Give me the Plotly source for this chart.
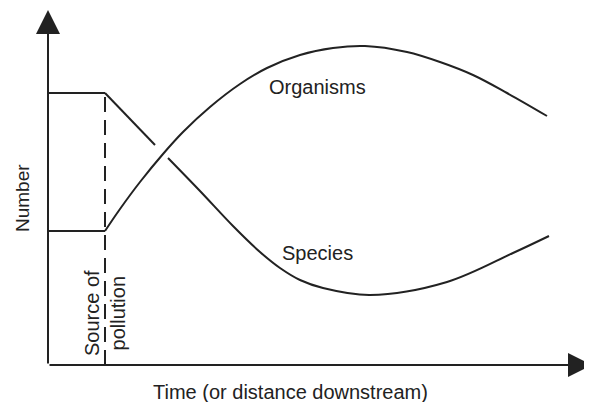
import plotly.graph_objects as go

# Time (arbitrary units) and Number (arbitrary units)
pollution_time = 57
pre_time = [0, 57]
species_pre = [272, 272]
organisms_pre = [134, 134]

species_time = [57, 107, None, 120, 152, 185, 212, 232, 252, 275, 322, 399, 465, 501]
species_num = [272, 220, None, 207, 174, 139, 113, 97, 85, 77, 70, 83, 112, 129]

organisms_time = [57, 72, 92, 115, 135, 162, 192, 219, 252, 285, 317, 359, 392, 425, 459, 499]
organisms_num = [134, 156, 183, 211, 233, 258, 281, 297, 310, 317, 319, 313, 303, 290, 272, 249]

INK = "#222222"
FONT = "Liberation Sans, Arial, Helvetica, sans-serif"

fig = go.Figure()

line = dict(color=INK, width=2)
fig.add_trace(go.Scatter(x=pre_time, y=species_pre, mode="lines", line=line, hoverinfo="skip"))
fig.add_trace(go.Scatter(x=pre_time, y=organisms_pre, mode="lines", line=line, hoverinfo="skip"))
fig.add_trace(go.Scatter(x=species_time, y=species_num, mode="lines",
                         line=dict(color=INK, width=2, shape="spline", smoothing=1.0),
                         connectgaps=False, hoverinfo="skip"))
fig.add_trace(go.Scatter(x=organisms_time, y=organisms_num, mode="lines",
                         line=dict(color=INK, width=2, shape="spline", smoothing=1.0),
                         hoverinfo="skip"))
# dashed source-of-pollution line
fig.add_trace(go.Scatter(x=[pollution_time, pollution_time], y=[0, species_pre[1]], mode="lines",
                         line=dict(color=INK, width=2, dash="15px,8px"), hoverinfo="skip"))

annotations = [
    # axes with arrows
    dict(x=544, y=0, ax=0, ay=0, xref="x", yref="y", axref="x", ayref="y",
         showarrow=True, arrowhead=2, arrowsize=2.4, arrowwidth=2, arrowcolor=INK, text=""),
    dict(x=0, y=355, ax=0, ay=0, xref="x", yref="y", axref="x", ayref="y",
         showarrow=True, arrowhead=2, arrowsize=2.4, arrowwidth=2, arrowcolor=INK, text=""),
    dict(x=269, y=278, text="Organisms", showarrow=False, font=dict(size=20, color=INK, family=FONT)),
    dict(x=269, y=112, text="Species", showarrow=False, font=dict(size=20, color=INK, family=FONT)),
    dict(x=57, y=52, text="Source of<br>pollution", textangle=-90, showarrow=False,
         font=dict(size=20, color=INK, family=FONT)),
    dict(x=-26, y=167, text="Number", textangle=-90, showarrow=False,
         font=dict(size=19, color=INK, family=FONT)),
    dict(x=242, y=-27, text="Time (or distance downstream)", showarrow=False,
         font=dict(size=20, color=INK, family=FONT)),
]

# the page body has an 8px margin, so the figure is 8px smaller than the window
fig.update_layout(
    width=584, height=394,
    margin=dict(l=0, r=0, t=0, b=0),
    paper_bgcolor="white", plot_bgcolor="white",
    showlegend=False,
    xaxis=dict(range=[-40, 544], visible=False, fixedrange=True),
    yaxis=dict(range=[-37, 357], visible=False, fixedrange=True),
    annotations=annotations,
)

fig.write_html("out.html")
